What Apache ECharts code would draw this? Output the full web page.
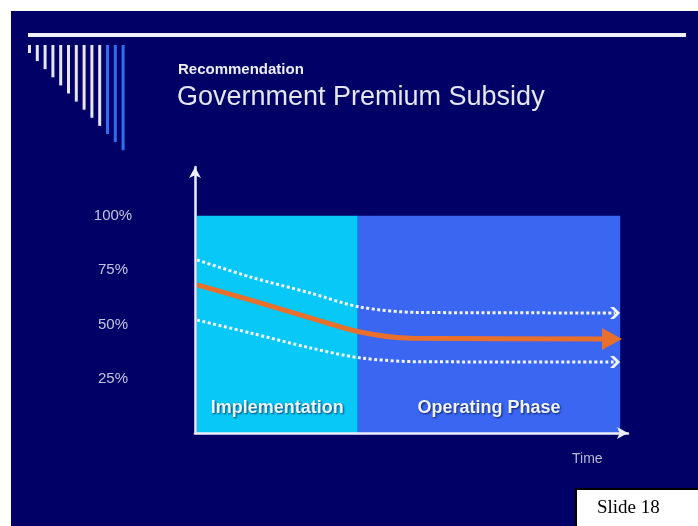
<!DOCTYPE html>
<html>
<head>
<meta charset="utf-8">
<script src="https://cdn.jsdelivr.net/npm/echarts@6/dist/echarts.min.js"></script>
<style>
  html, body { margin: 0; padding: 0; background: #ffffff; }
  #bg { position: absolute; left: 11px; top: 11px; width: 687px; height: 515px; background: #000066; }
  #chart { position: absolute; left: 0; top: 0; width: 698px; height: 526px; }
</style>
</head>
<body>
<div id="bg"></div>
<div id="chart"></div>
<script>
// ---- data ----
const yTicks = [25, 50, 75, 100];               // y tick labels shown as %
const phaseNames = ['Implementation', 'Operating Phase'];
const phaseBounds = [0.4, 37.6, 98.2];           // time positions of phase boundaries
const phaseTop = 100;                            // phases fill up to 100%
// [time, percent]
const upperBand = [[0.5, 79.7], [12.7, 71.9], [26.6, 64.5], [38.1, 58.0], [52, 55.5], [97, 55.3]];
const centralPath = [[0.5, 68.2], [12.7, 61.3], [26.6, 53.0], [38.1, 46.5], [50, 43.6], [96.3, 43.3]];
const lowerBand = [[0.5, 52.0], [12.7, 46.1], [26.6, 39.2], [38.1, 34.6], [52, 32.8], [97, 32.7]];

const FONT = '"Liberation Sans", Arial, sans-serif';
const chevron = 'path://M0,0 L4,0 L10,6 L4,12 L0,12 L6,6 Z';

function withEndSymbol(arr, symbol, size, rotate) {
  return arr.map((p, i) => i === arr.length - 1
    ? { value: p, symbol: symbol, symbolSize: size, symbolRotate: rotate || 0, symbolKeepAspect: false }
    : { value: p, symbol: 'none' });
}

// decorative bars (slide template ornament)
const deco = [];
deco.push({ type: 'rect', shape: { x: 28, y: 33, width: 658, height: 4 }, style: { fill: '#f0f0fa' }, z: 5 });
for (let i = 0; i < 13; i++) {
  deco.push({
    type: 'rect',
    shape: { x: 28 + i * 7.8, y: 45, width: 3, height: 8 + i * 8.1 },
    style: { fill: i >= 10 ? '#2f6ff0' : '#e6e6f2' }, z: 5
  });
}

const chart = echarts.init(document.getElementById('chart'), null, { renderer: 'canvas' });
chart.setOption({
  backgroundColor: 'transparent',
  animation: false,
  grid: { left: 195, right: 70, top: 167, bottom: 93, containLabel: false },
  xAxis: {
    type: 'value', min: 0, max: 100, z: 10,
    axisLine: { show: true, symbol: ['none', 'arrow'], symbolSize: [9, 11], lineStyle: { color: '#eeeeff', width: 2.5 } },
    axisTick: { show: false }, axisLabel: { show: false }, splitLine: { show: false }
  },
  yAxis: {
    type: 'value', min: 0, max: 122.5, interval: 25, z: 10,
    axisLine: { show: true, symbol: ['none', 'arrow'], symbolSize: [9, 11], lineStyle: { color: '#eeeeff', width: 2.5 } },
    axisTick: { show: false }, splitLine: { show: false },
    axisLabel: {
      show: true, margin: 82, align: 'center', verticalAlign: 'middle', padding: [0, 0, 11, 0],
      color: '#c4c4e0', fontFamily: FONT, fontSize: 15,
      formatter: v => (yTicks.indexOf(v) >= 0 ? v + '%' : '')
    }
  },
  series: [
    {
      type: 'line', data: [], z: 1, silent: true,
      markArea: {
        silent: true,
        label: {
          show: true, position: 'insideBottom', distance: 16,
          color: '#eef4fb', fontFamily: FONT, fontWeight: 'bold', fontSize: 18,
          textShadowColor: 'rgba(0,0,40,0.7)', textShadowBlur: 2, textShadowOffsetX: 1, textShadowOffsetY: 1
        },
        data: [
          [{ name: phaseNames[0], xAxis: phaseBounds[0], yAxis: 0, itemStyle: { color: '#08c8f8' } }, { xAxis: phaseBounds[1], yAxis: phaseTop }],
          [{ name: phaseNames[1], xAxis: phaseBounds[1], yAxis: 0, itemStyle: { color: '#3a66f2' } }, { xAxis: phaseBounds[2], yAxis: phaseTop }]
        ]
      }
    },
    {
      name: 'Upper', type: 'line', z: 3, smooth: 0.3, silent: true,
      showSymbol: true, showAllSymbol: true, color: '#f2f6ff',
      lineStyle: { color: '#f2f6ff', width: 3, type: [3, 2.5] },
      data: withEndSymbol(upperBand, chevron, [10, 12], 0)
    },
    {
      name: 'Lower', type: 'line', z: 3, smooth: 0.3, silent: true,
      showSymbol: true, showAllSymbol: true, color: '#f2f6ff',
      lineStyle: { color: '#f2f6ff', width: 3, type: [3, 2.5] },
      data: withEndSymbol(lowerBand, chevron, [10, 12], 0)
    },
    {
      name: 'Central', type: 'line', z: 4, smooth: 0.3, silent: true,
      showSymbol: true, showAllSymbol: true, color: '#e8702c',
      lineStyle: { color: '#e8702c', width: 5 },
      data: withEndSymbol(centralPath, 'triangle', [22, 20], -90)
    }
  ],
  graphic: deco.concat([
    { type: 'text', left: 178, top: 62, z: 6, style: { text: 'Recommendation', fill: '#eeeef6', font: 'bold 15px ' + FONT } },
    { type: 'text', left: 177, top: 84, z: 6, style: { text: 'Government Premium Subsidy', fill: '#e4e6f2', font: '27px ' + FONT } },
    { type: 'text', left: 572, top: 452, z: 6, style: { text: 'Time', fill: '#b8b8d4', font: '14px ' + FONT } },
    { type: 'rect', z: 7, shape: { x: 576, y: 489, width: 140, height: 60 }, style: { fill: '#ffffff', stroke: '#000000', lineWidth: 2 } },
    { type: 'text', left: 597, top: 499, z: 8, style: { text: 'Slide 18', fill: '#000000', font: '19px "Liberation Serif", "Times New Roman", serif' } }
  ])
});
</script>
</body>
</html>
